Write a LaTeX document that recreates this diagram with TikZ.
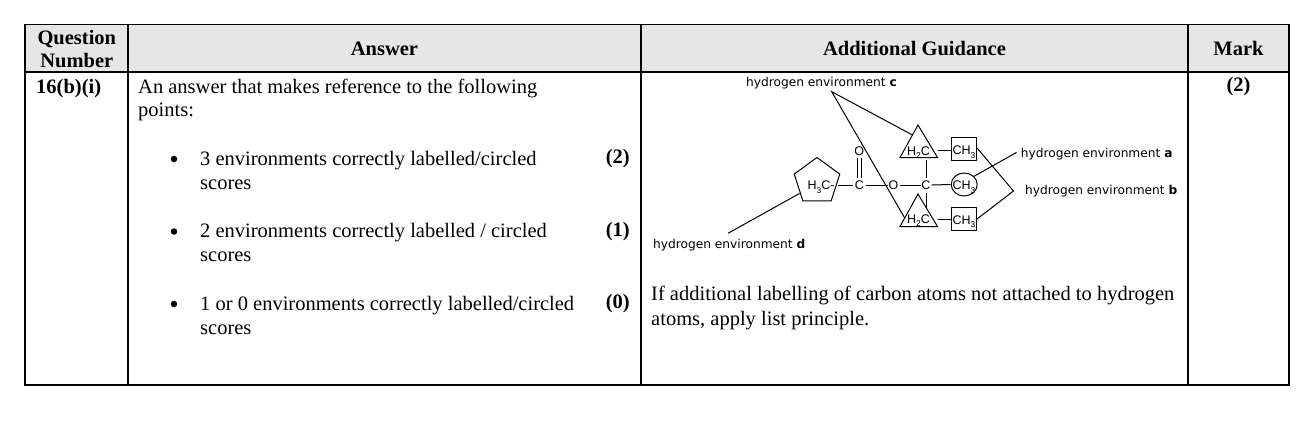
\documentclass[tikz,border=0pt]{standalone}
\usepackage{fontspec}
\usetikzlibrary{shapes.geometric}
\setmainfont{Liberation Serif}
\newfontfamily\djsans{DejaVu Sans}
\newfontfamily\lsans{Liberation Sans}
\newcommand{\sbs}[1]{\raisebox{-0.28em}{\fontsize{8.5}{8.5}\selectfont #1}}
\definecolor{hdrgray}{RGB}{230,230,230}
\tikzset{
  tline/.style={line width=1.3pt},
  serif/.style={font=\fontsize{20.5}{24}\selectfont, inner sep=0},
  serifb/.style={font=\fontsize{20.5}{24}\selectfont\bfseries, inner sep=0},
  lab/.style={font=\djsans\fontsize{12.2}{14}\selectfont, inner sep=0, anchor=base west},
  chem/.style={font=\lsans\fontsize{12.5}{14}\selectfont, inner sep=0, anchor=base},
  bond/.style={line width=1pt},
  shp/.style={line width=1pt},
  bul/.style={circle, fill=black, minimum size=6.5pt, inner sep=0},
}
\begin{document}
\begin{tikzpicture}[x=1pt,y=-1pt]
\useasboundingbox (0,0) rectangle (1314,428);
% table
\fill[hdrgray] (25,24.5) rectangle (1289,72);
\draw[tline] (25,24.5) rectangle (1289,385);
\draw[tline] (25,72) -- (1289,72);
\draw[tline] (128,24.5) -- (128,385);
\draw[tline] (641,24.5) -- (641,385);
\draw[tline] (1188,24.5) -- (1188,385);
% header
\node[serifb, anchor=base] (hq1) at (76.8,44.3) {Question};
\node[serifb, anchor=base] (hq2) at (76.8,67.7) {Number};
\node[serifb, anchor=base] (ha) at (384.5,55.5) {Answer};
\node[serifb, anchor=base] (hg) at (914.5,55.5) {Additional Guidance};
\node[serifb, anchor=base] (hm) at (1238.5,55.5) {Mark};
% body
\node[serifb, anchor=base west] (qn) at (36,93) {16(b)(i)};
\node[serif, anchor=base west] (a1) at (138,93) {An answer that makes reference to the following};
\node[serif, anchor=base west] (a2) at (138,116) {points:};
\node[bul] (b1) at (174,159) {};
\node[serif, anchor=base west] (l1) at (200,165) {3 environments correctly labelled/circled};
\node[serif, anchor=base west] (s1) at (200,189) {scores};
\node[serifb, anchor=base east] (m1) at (630,163.5) {(2)};
\node[bul] (b2) at (174,231.5) {};
\node[serif, anchor=base west] (l2) at (200,237.5) {2 environments correctly labelled / circled};
\node[serif, anchor=base west] (s2) at (200,261.5) {scores};
\node[serifb, anchor=base east] (m2) at (630,236) {(1)};
\node[bul] (b3) at (174,304) {};
\node[serif, anchor=base west] (l3) at (200,310) {1 or 0 environments correctly labelled/circled};
\node[serif, anchor=base west] (s3) at (200,334) {scores};
\node[serifb, anchor=base east] (m3) at (630,308.5) {(0)};
\node[serifb, anchor=base] (mk) at (1238.5,92) {(2)};
\node[serif, anchor=base west] (g1) at (651,300) {If additional labelling of carbon atoms not attached to hydrogen};
\node[serif, anchor=base west] (g2) at (651,325) {atoms, apply list principle.};
% ---- molecule ----
% pentagon
\coordinate (p1) at (817,157.5);
\coordinate (p2) at (839.8,174.1);
\coordinate (p3) at (831.1,200.9);
\coordinate (p4) at (802.9,200.9);
\coordinate (p5) at (794.2,174.1);
\draw[shp] (p1) -- (p2) -- (p3) -- (p4) -- (p5) -- cycle;
\node[chem] (h3c) at (821,189.5) {H\sbs{3}C-};
% carbonyl
\node[chem] (c1) at (859.3,189.5) {C};
\node[chem] (o1) at (859.3,155.2) {O};
\node[chem] (o2) at (893.5,189.5) {O};
\node[chem] (c2) at (926,189.5) {C};
\coordinate (pr) at (838,185);
\coordinate (c1l) at (853,185);
\coordinate (c1r) at (865.5,185);
\coordinate (o2l) at (887.5,185);
\coordinate (o2r) at (899.5,185);
\coordinate (c2l) at (920.5,185);
\coordinate (c2r) at (931.5,185);
\draw[bond] (pr) -- (c1l);
\draw[bond] (c1r) -- (o2l);
\draw[bond] (o2r) -- (c2l);
\draw[bond] (857.3,158.3) -- (857.3,178.3);
\draw[bond] (861.7,158.3) -- (861.7,178.3);
% triangles
\coordinate (t1a) at (918,125);
\coordinate (t1l) at (900,157.5);
\coordinate (t1r) at (937.5,157.5);
\draw[shp] (t1a) -- (t1r) -- (t1l) -- cycle;
\node[chem] (h2c1) at (918.5,155.2) {H\sbs{2}C};
\coordinate (t2a) at (918,194);
\coordinate (t2l) at (900,226.5);
\coordinate (t2r) at (937.5,226.5);
\draw[shp] (t2a) -- (t2r) -- (t2l) -- cycle;
\node[chem] (h2c2) at (918.5,223.2) {H\sbs{2}C};
% vertical bonds
\draw[bond] (926,160) -- (926,177.5);
\draw[bond] (926,193) -- (926,208.5);
% squares and circle
\node[draw, shp, rectangle, minimum width=25.5, minimum height=23.5, inner sep=0] (sq1) at (964.2,148.8) {};
\node[draw, shp, rectangle, minimum width=25.5, minimum height=23.5, inner sep=0] (sq2) at (964.2,218.8) {};
\node[draw, shp, ellipse, minimum width=26, minimum height=23, inner sep=0] (ci) at (964.2,184.5) {};
\node[chem] (ch31) at (964,154.7) {CH\sbs{3}};
\node[chem] (ch32) at (964,189.5) {CH\sbs{3}};
\node[chem] (ch33) at (964,224.2) {CH\sbs{3}};
\draw[bond] (937.5,150) -- (sq1.west |- 937.5,150);
\draw[bond] (937.5,219.3) -- (sq2.west |- 937.5,219.3);
\draw[bond] (c2r) -- (ci.west);
% labels
\node[lab] (lc) at (746,86) {hydrogen environment \textbf{c}};
\node[lab] (la) at (1020.7,157.5) {hydrogen environment \textbf{a}};
\node[lab] (lb) at (1025,194) {hydrogen environment \textbf{b}};
\node[lab] (ld) at (653,248) {hydrogen environment \textbf{d}};
% connectors
\coordinate (capex) at (831.7,91.7);
\coordinate (ct1) at (912.5,135);
\coordinate (ct2) at (904.7,218);
\draw[bond] (ct1) -- (capex) -- (ct2);
\coordinate (aend) at (1016.5,152.5);
\draw[bond] (ci.40) -- (aend);
\coordinate (bapex) at (1013.5,191);
\coordinate (bs1) at (977,148);
\coordinate (bs2) at (977,219);
\draw[bond] (bs1) -- (bapex) -- (bs2);
\coordinate (pd) at (799.5,193.5);
\coordinate (dend) at (728,233.3);
\draw[bond] (pd) -- (dend);
\end{tikzpicture}
\end{document}
